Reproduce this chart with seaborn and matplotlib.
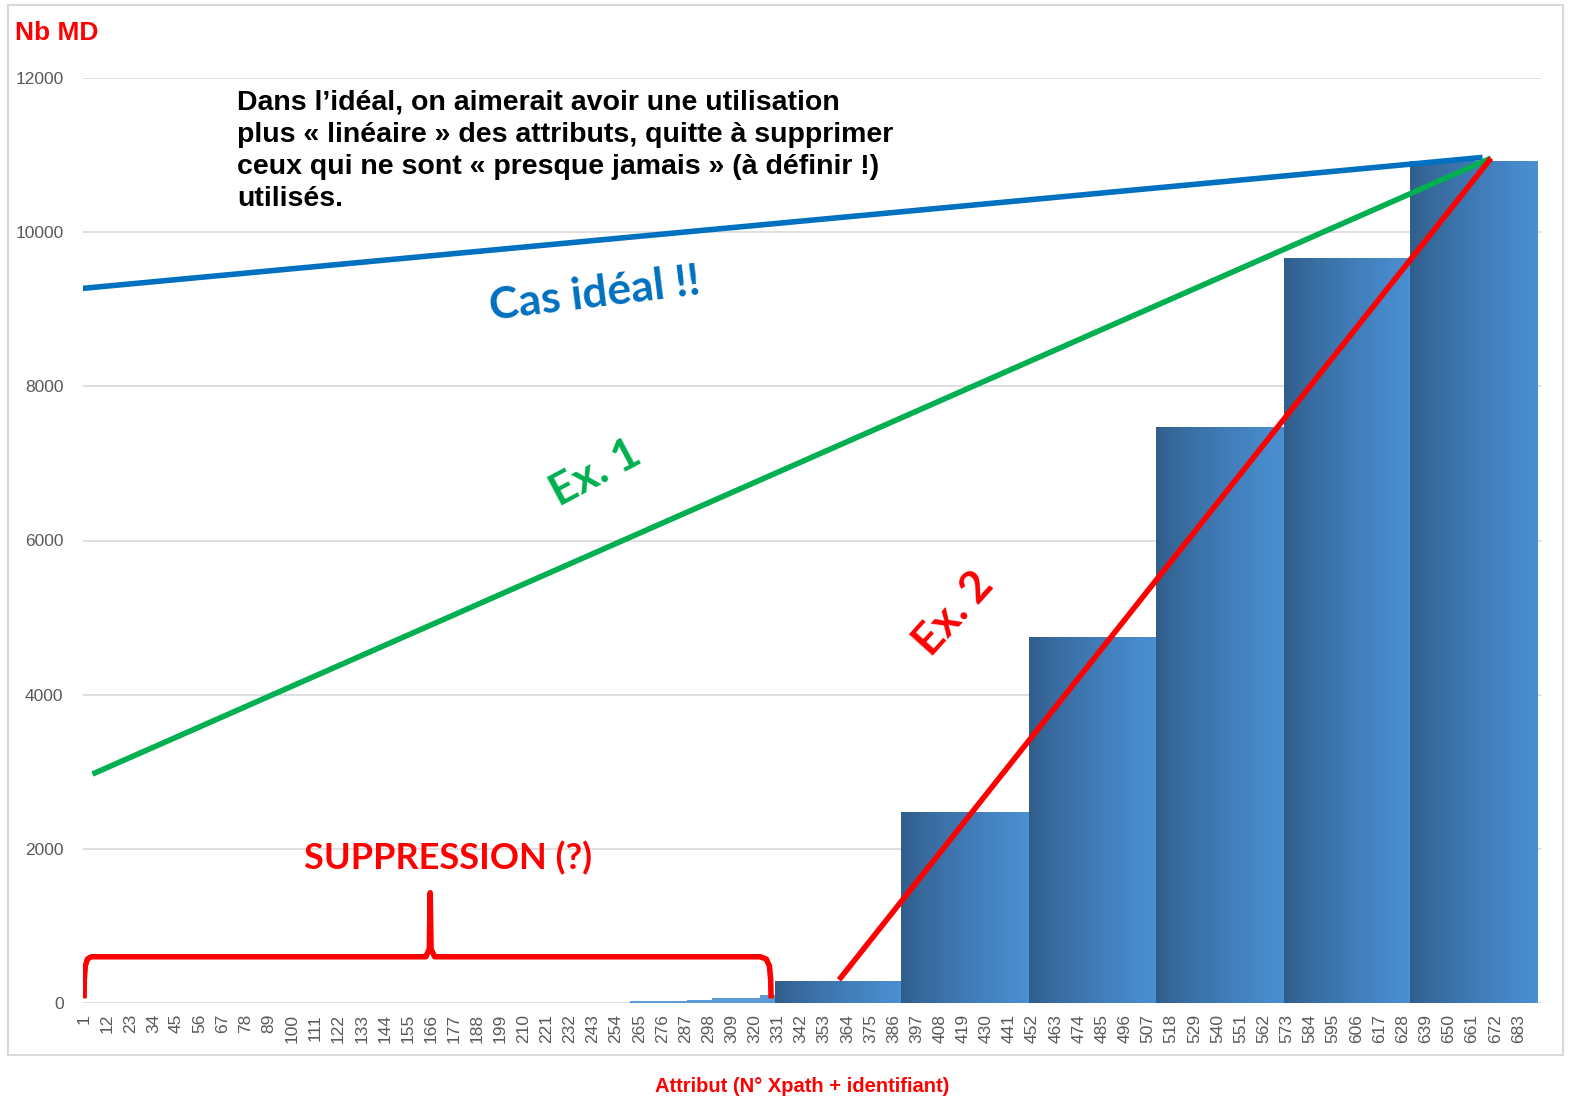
import numpy as np
import pandas as pd
import seaborn as sns
import matplotlib.pyplot as plt
from matplotlib.colors import to_rgb
from matplotlib.patches import Rectangle

# nombre d'attributs (N° Xpath + identifiant)
nb_attributs = 692

# petits effectifs avant le premier palier
petit_debut = [261, 288, 300, 323]
petit_fin = [287, 299, 322, 329]
petit_valeur = [20, 45, 70, 100]

# paliers (attributs de debut / fin, nb de MD)
palier_debut = [330, 390, 451, 511, 572, 632]
palier_fin = [389, 450, 510, 571, 631, 692]
palier_valeur = [290, 2480, 4750, 7470, 9660, 10920]

tick_labels = list(range(1, 684, 11))

# lignes d'annotation (attribut, nb MD)
ideal_x, ideal_y = [0, 666], [9270, 10970]
ex1_x, ex1_y = [5, 670], [2970, 10960]
ex2_x, ex2_y = [360, 670], [300, 10960]
accolade_x = [1, 1.1, 1.6, 2.6, 4.5, 163.5, 165.2, 165.6, 166.0, 167.7, 322.5, 325.4, 326.9, 327.5, 327.7]
accolade_y = [60, 300, 480, 570, 600, 600, 700, 1430, 700, 600, 600, 570, 480, 300, 60]

attr = np.arange(1, nb_attributs + 1)
nb_md = np.zeros(nb_attributs)
couleurs = [to_rgb("#5b9bd5")] * nb_attributs
dark, light = np.array(to_rgb("#305d8a")), np.array(to_rgb("#4a8fd3"))
for d, f, v in zip(petit_debut, petit_fin, petit_valeur):
    nb_md[d - 1:f] = v
for d, f, v in zip(palier_debut, palier_fin, palier_valeur):
    nb_md[d - 1:f] = v
    n = f - d + 1
    for i in range(n):
        t = (i / (n - 1)) ** 0.8
        couleurs[d - 1 + i] = tuple(dark + (light - dark) * t)

df = pd.DataFrame({"attribut": attr, "nb_md": nb_md})

sns.set_style("white")
plt.rcParams["font.family"] = ["Liberation Sans", "DejaVu Sans"]

W, H = 1569, 1098
fig = plt.figure(figsize=(W / 100, H / 100), dpi=100)
ax = fig.add_axes([83 / W, 1 - 1003 / H, (1541 - 83) / W, (1003 - 78) / H])

sns.barplot(data=df, x="attribut", y="nb_md", native_scale=True, width=1,
            color="#4a8ccc", linewidth=0, errorbar=None, ax=ax)
for p, c in zip(ax.patches, couleurs):
    p.set_facecolor(c)
    p.set_edgecolor("none")

ax.set_xlim(0.5, 693.8)
ax.set_ylim(0, 12000)
ax.set_yticks(range(0, 12001, 2000))
ax.yaxis.grid(True, color="#d9d9d9", lw=1.2)
ax.set_axisbelow(True)
ax.set_xticks(tick_labels)
ax.set_xticklabels([str(t) for t in tick_labels], rotation=90)
ax.tick_params(axis="x", length=0, pad=8, labelsize=12.5, labelcolor="#595959")
ax.tick_params(axis="y", length=0, pad=14, labelsize=12.5, labelcolor="#595959")
ax.set_xlabel("")
ax.set_ylabel("")
sns.despine(ax=ax, left=True, bottom=True)

ax.plot(ideal_x, ideal_y, color="#0070c0", lw=4, solid_capstyle="butt")
ax.plot(ex1_x, ex1_y, color="#00b050", lw=4, solid_capstyle="butt")
ax.plot(ex2_x, ex2_y, color="#ff0000", lw=4, solid_capstyle="butt")
ax.plot(accolade_x, accolade_y, color="#ff0000", lw=4, solid_joinstyle="round",
        solid_capstyle="butt")

def fx(px):
    return px / W

def fy(py):
    return 1 - py / H

fig.add_artist(Rectangle((fx(8), fy(1055)), fx(1563) - fx(8), fy(5) - fy(1055),
                         transform=fig.transFigure, fill=False, edgecolor="#d9d9d9", lw=1.5))

fig.text(fx(15), fy(33), "Nb MD", color="#ff0000", fontsize=19, fontweight="bold", va="center")
fig.text(fx(237), fy(90),
         "Dans l\u2019idéal, on aimerait avoir une utilisation\n"
         "plus « linéaire » des attributs, quitte à supprimer\n"
         "ceux qui ne sont « presque jamais » (à définir !)\n"
         "utilisés.",
         color="black", fontsize=20.5, fontweight="bold", va="top", ha="left", linespacing=1.3)

accent = ["Lato", "DejaVu Sans"]
fig.text(fx(595), fy(294), "Cas idéal !!", color="#0070c0", fontsize=32, fontweight="bold",
         rotation=7, ha="center", va="center", family=accent)
fig.text(fx(595), fy(473), "Ex. 1", color="#00b050", fontsize=32, fontweight="bold",
         rotation=28, ha="center", va="center", family=accent)
fig.text(fx(953), fy(614), "Ex. 2", color="#ff0000", fontsize=32, fontweight="bold",
         rotation=48, ha="center", va="center", family=accent)
fig.text(fx(448), fy(858), "SUPPRESSION (?)", color="#ff0000", fontsize=26, fontweight="bold",
         ha="center", va="center", family=accent)
fig.text(fx(802), fy(1086), "Attribut (N° Xpath + identifiant)", color="#ff0000", fontsize=14.5,
         fontweight="bold", ha="center", va="center")

fig.savefig("out.png", dpi=100)
